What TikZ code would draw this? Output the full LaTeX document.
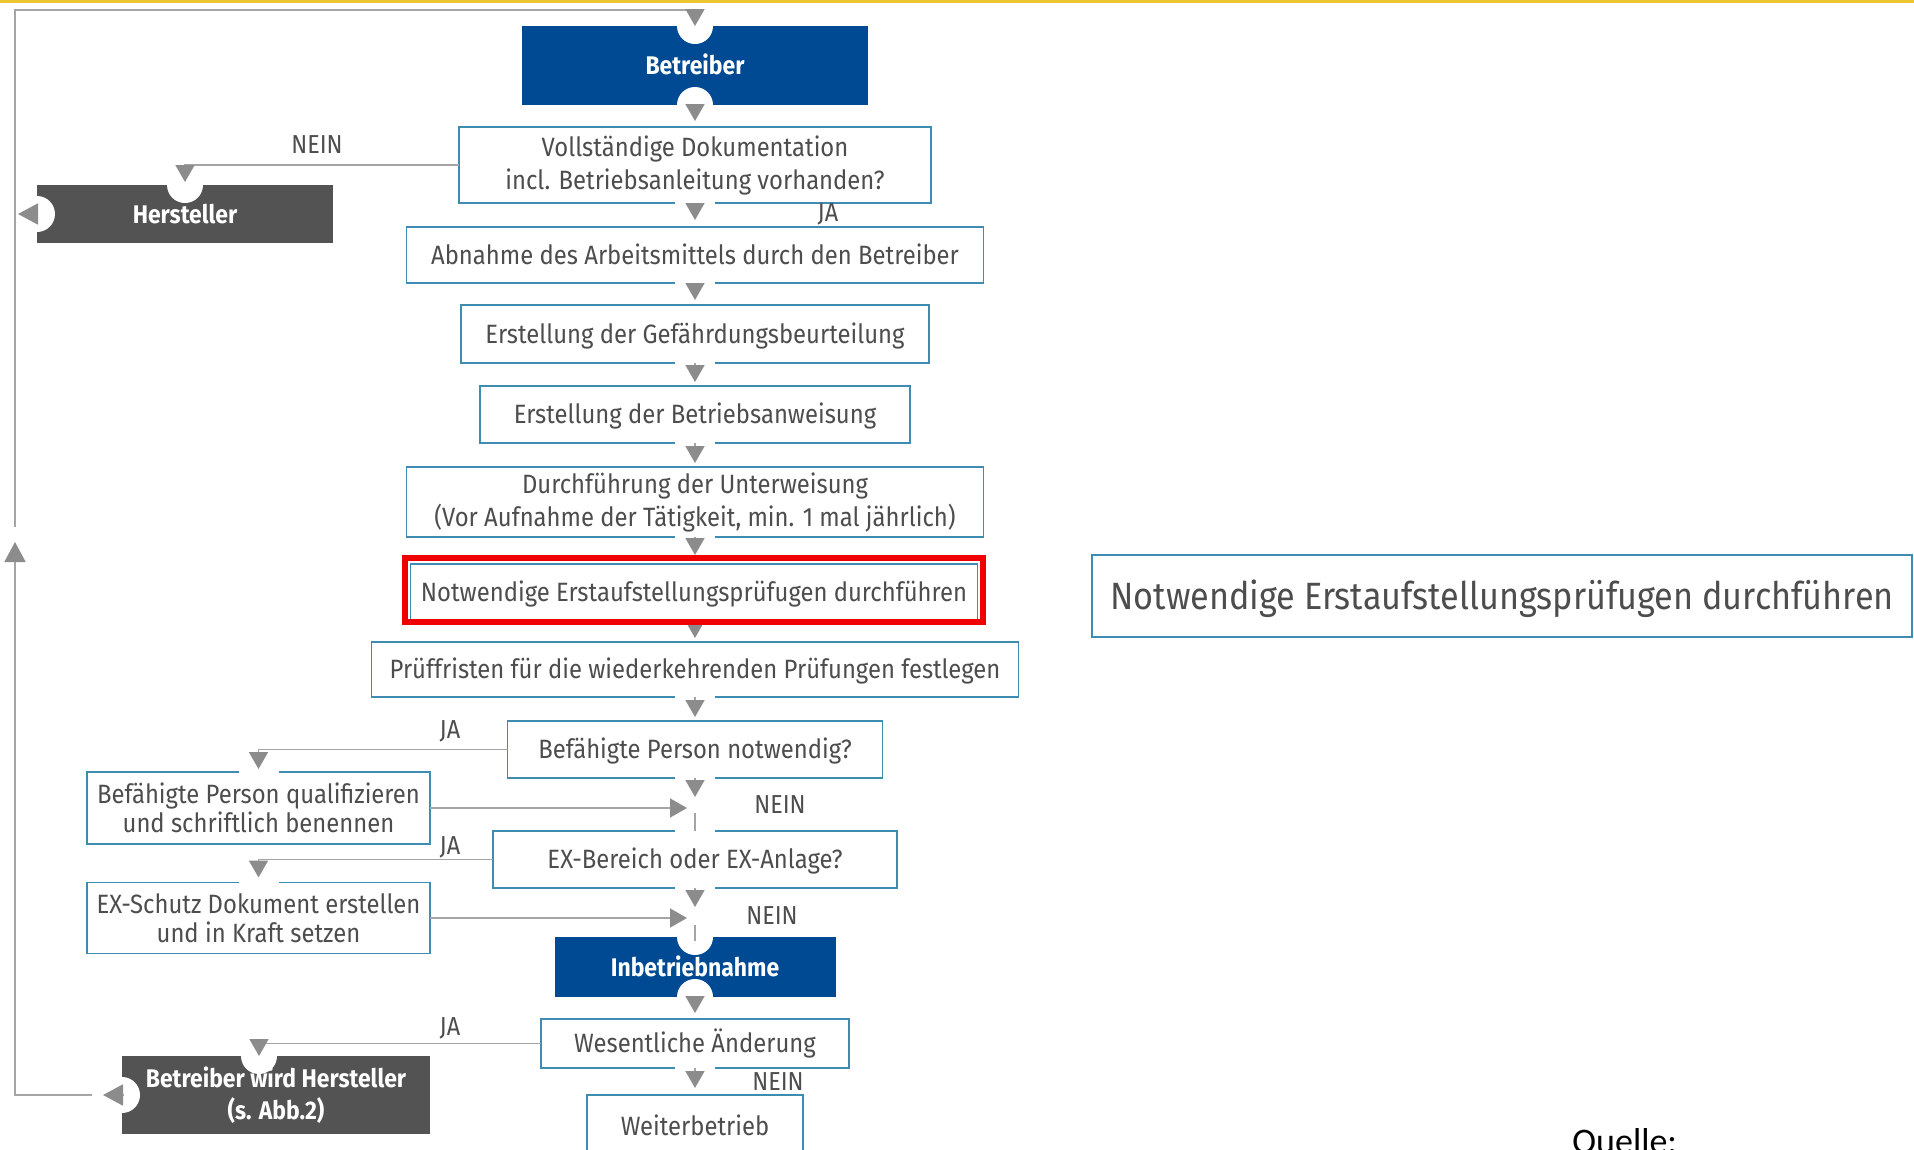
\documentclass[tikz,border=0pt]{standalone}
\usepackage{fontspec}
\setmainfont{Fira Sans}[FakeStretch=0.9]
\newfontfamily\captionfont{Carlito}
\usetikzlibrary{arrows.meta}

\definecolor{dguvblue}{RGB}{0,74,147}
\definecolor{darkbox}{RGB}{83,83,83}
\definecolor{frame}{RGB}{62,140,178}
\definecolor{txt}{RGB}{77,77,77}
\definecolor{linegray}{RGB}{165,165,165}
\definecolor{tipgray}{RGB}{140,140,140}
\definecolor{topbar}{RGB}{237,197,47}
\definecolor{hilite}{RGB}{240,0,0}

\begin{document}
\begin{tikzpicture}[x=1pt,y=-1pt,
  every node/.style={inner sep=0pt, outer sep=0pt},
  stepbox/.style={draw=frame, line width=1.6pt, fill=white, text=txt, align=center,
    font=\fontsize{26.5}{33}\selectfont},
  oneline/.style={text height=23pt, text depth=4.5pt},
  darkstep/.style={fill=#1, text=white, align=center,
    font=\fontsize{25.5}{32}\selectfont\bfseries},
  answer/.style={text=txt, font=\fontsize{26}{30}\selectfont},
  link/.style={draw=linegray, line width=1.8pt},
  flow/.style={link, -{Triangle[length=17pt,width=19pt,color=tipgray]}},
  bigtip/.style={link, -{Triangle[length=20pt,width=21pt,color=tipgray]}},
  notch/.style={fill=white},
  cut/.style={fill=white}
]
\useasboundingbox (0,0) rectangle (1914,1149);
\fill[topbar] (0,0) rectangle (1914,3);

% ---- process steps ----
\node[darkstep=dguvblue, oneline, minimum width=346pt, minimum height=79pt] (betr) at (695,65.5) {Betreiber};
\node[stepbox, minimum width=472pt, minimum height=76pt] (voll) at (695,165) {Vollständige Dokumentation\\incl. Betriebsanleitung vorhanden?};
\node[darkstep=darkbox, oneline, minimum width=296pt, minimum height=58pt] (herst) at (185,214) {Hersteller};
\node[stepbox, oneline, minimum width=577pt, minimum height=56pt] (abn) at (695,255) {Abnahme des Arbeitsmittels durch den Betreiber};
\node[stepbox, oneline, minimum width=468pt, minimum height=58pt] (gef) at (695,334) {Erstellung der Gefährdungsbeurteilung};
\node[stepbox, oneline, minimum width=430pt, minimum height=57pt] (banw) at (695,414.5) {Erstellung der Betriebsanweisung};
\node[stepbox, minimum width=577pt, minimum height=70pt] (unt) at (695,502) {Durchführung der Unterweisung\\(Vor Aufnahme der Tätigkeit, min. 1 mal jährlich)};
\node[stepbox, oneline, minimum width=567pt, minimum height=56pt] (notw) at (694,592) {Notwendige Erstaufstellungsprüfugen durchführen};
\node[stepbox, oneline, minimum width=647pt, minimum height=55pt] (pruef) at (695,669.5) {Prüffristen für die wiederkehrenden Prüfungen festlegen};
\node[stepbox, oneline, minimum width=375pt, minimum height=57pt] (befn) at (695,749.5) {Befähigte Person notwendig?};
\node[stepbox, minimum width=343pt, minimum height=72pt, font=\fontsize{26.5}{29}\selectfont] (befq) at (258.5,808) {Befähigte Person qualifizieren\\und schriftlich benennen};
\node[stepbox, oneline, minimum width=404pt, minimum height=57pt] (exb) at (695,859.5) {EX-Bereich oder EX-Anlage?};
\node[stepbox, minimum width=343pt, minimum height=71pt, font=\fontsize{26.5}{29}\selectfont] (exs) at (258.5,918) {EX-Schutz Dokument erstellen\\und in Kraft setzen};
\node[darkstep=dguvblue, oneline, minimum width=281pt, minimum height=60pt] (inb) at (695,967) {Inbetriebnahme};
\node[stepbox, oneline, minimum width=308pt, minimum height=49pt] (wes) at (695,1043.5) {Wesentliche Änderung};
\node[stepbox, oneline, minimum width=216pt, minimum height=62pt] (weit) at (695,1126) {Weiterbetrieb};
\node[darkstep=darkbox, minimum width=308pt, minimum height=78pt] (bwh) at (276,1095) {Betreiber wird Hersteller\\(s. Abb.2)};

% enlarged copy of the highlighted step
\node[stepbox, line width=2.4pt, minimum width=820pt, minimum height=82pt,
  text height=33pt, text depth=6.5pt,
  font=\fontsize{38}{42}\selectfont] (detail) at (1502,596) {Notwendige Erstaufstellungsprüfugen durchführen};

% ---- openings in the frames where connectors pass ----
\foreach \n in {voll,abn,gef,banw,unt,notw,pruef,befn,exb,wes}
  \fill[cut] ([xshift=-20pt,yshift=3pt]\n.south) rectangle ([xshift=20pt,yshift=-3pt]\n.south);
\foreach \n in {exb,befq,exs}
  \fill[cut] ([xshift=-20pt,yshift=3pt]\n.north) rectangle ([xshift=20pt,yshift=-3pt]\n.north);

% ---- round notches in the filled boxes ----
\foreach \a in {betr.north,betr.south,inb.north,inb.south,herst.north,herst.west,bwh.west}
  \fill[notch] (\a) circle[radius=18pt];
\fill[notch] ([xshift=-17pt]bwh.north) circle[radius=18pt];

% ---- main column ----
\draw[flow, shorten >=6pt] (betr.south) -- (voll.north);
\draw[flow, shorten >=7pt] (voll.south) -- (abn.north);
\draw[flow, shorten >=5pt] (abn.south) -- (gef.north);
\draw[flow, shorten >=4pt] (gef.south) -- (banw.north);
\draw[flow, shorten >=4pt] (banw.south) -- (unt.north);
\draw[flow, shorten >=9pt] (unt.south) -- (unt.south |- notw.north);
\draw[flow, shorten >=4pt] (notw.south -| pruef.north) -- (pruef.north);
\draw[flow, shorten >=4pt] (pruef.south) -- (befn.north);
\draw[flow, shorten >=34pt] (befn.south) -- (exb.north);
\draw[link] ([yshift=-35pt]befn.south) -- (exb.north);
\draw[flow, shorten >=30pt] (exb.south) -- (inb.north);
\draw[link] ([yshift=-37pt]exb.south) -- ([yshift=-4pt]inb.north);
\draw[flow, shorten >=6pt] (inb.south) -- (wes.north);
\draw[flow, shorten >=7pt] (wes.south) -- (weit.north);

% ---- branches ----
\draw[flow, shorten >=3pt] (voll.west) -| (herst.north);
\draw[flow, shorten >=3pt] (befn.west) -| (befq.north);
\draw[flow, shorten >=8pt] (befq.east) -- (befq.east -| befn.south);
\draw[flow, shorten >=5pt] (exb.west) -| (exs.north);
\draw[flow, shorten >=8pt] (exs.east) -- (exs.east -| exb.south);
\draw[flow] (wes.west) -| ([xshift=-17pt]bwh.north);

% ---- return path ----
\coordinate (railtop) at (15,10);
\coordinate (railmark) at (15,542);
\draw[bigtip] ([xshift=1pt]bwh.west) -- ([xshift=-19pt]bwh.west);
\draw[bigtip] (herst.west) -- ([xshift=-19pt]herst.west);
\draw[bigtip] ([xshift=-30pt]bwh.west) -| (railmark);
\draw[flow] ([yshift=15pt]railmark) -- (railtop) -| (betr.north);

% ---- answers ----
\node[answer] (nein1) at (317,145) {NEIN};
\node[answer] (ja1) at (828,214) {JA};
\node[answer] (ja2) at (450,731) {JA};
\node[answer] (nein2) at (780,805) {NEIN};
\node[answer] (ja3) at (450,847) {JA};
\node[answer] (nein3) at (772,916) {NEIN};
\node[answer] (ja4) at (450,1028) {JA};
\node[answer] (nein4) at (778,1082) {NEIN};

% ---- highlight frame ----
\draw[draw=hilite, line width=6pt] ([xshift=-6pt,yshift=6pt]notw.north west) rectangle ([xshift=5pt,yshift=-2pt]notw.south east);

% ---- source line ----
\node[anchor=base west, text=black, font=\captionfont\fontsize{36}{40}\selectfont] (src) at (1572,1153) {Quelle:};
\end{tikzpicture}
\end{document}
